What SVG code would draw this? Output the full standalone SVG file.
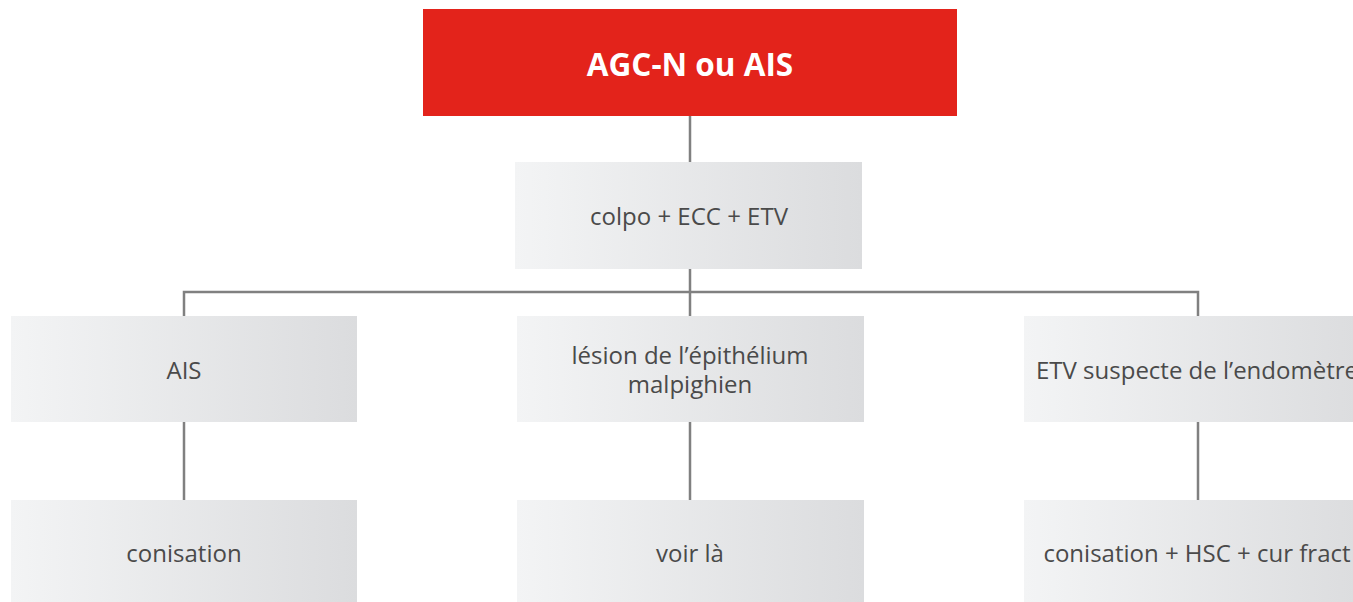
<svg xmlns="http://www.w3.org/2000/svg" width="1353" height="602" viewBox="0 0 1353 602">
<defs>
<linearGradient id="g" x1="0" y1="0" x2="1" y2="0">
<stop offset="0" stop-color="#f3f4f5"/>
<stop offset="1" stop-color="#dbdcde"/>
</linearGradient>
<style>
.box{fill:url(#g)}
.t{font-family:"Open Sans","Liberation Sans",sans-serif;font-size:24px;fill:#4a4a4a;text-anchor:middle}
.title{font-family:"Open Sans","Liberation Sans",sans-serif;font-size:31.5px;font-weight:bold;fill:#ffffff;text-anchor:middle}
.c{stroke:#808080;stroke-width:2.5;fill:none}
</style>
</defs>
<rect width="1353" height="602" fill="#ffffff"/>
<g id="connectors">
<path class="c" d="M690 116V162M690 269V316M184 316V292H1198V316M184 422V500M690 422V500M1198 422V500"/>
</g>
<g id="root">
<rect x="423" y="9" width="534" height="107" fill="#e3231b"/>
<text class="title" x="690" y="76">AGC-N ou AIS</text>
</g>
<g id="n-colpo">
<rect class="box" x="515" y="162" width="347" height="107"/>
<text class="t" x="689" y="225">colpo + ECC + ETV</text>
</g>
<g id="n-ais">
<rect class="box" x="11" y="316" width="346" height="106"/>
<text class="t" x="184" y="379">AIS</text>
</g>
<g id="n-lesion">
<rect class="box" x="517" y="316" width="347" height="106"/>
<text class="t" x="690" y="364">lésion de l’épithélium</text>
<text class="t" x="690" y="393">malpighien</text>
</g>
<g id="n-etv">
<rect class="box" x="1024" y="316" width="346" height="106"/>
<text class="t" x="1197" y="379">ETV suspecte de l’endomètre</text>
</g>
<g id="n-conisation">
<rect class="box" x="11" y="500" width="346" height="102"/>
<text class="t" x="184" y="562">conisation</text>
</g>
<g id="n-voir">
<rect class="box" x="517" y="500" width="347" height="102"/>
<text class="t" x="690" y="562">voir là</text>
</g>
<g id="n-conisation2">
<rect class="box" x="1024" y="500" width="346" height="102"/>
<text class="t" x="1197" y="562">conisation + HSC + cur fract</text>
</g>
</svg>
